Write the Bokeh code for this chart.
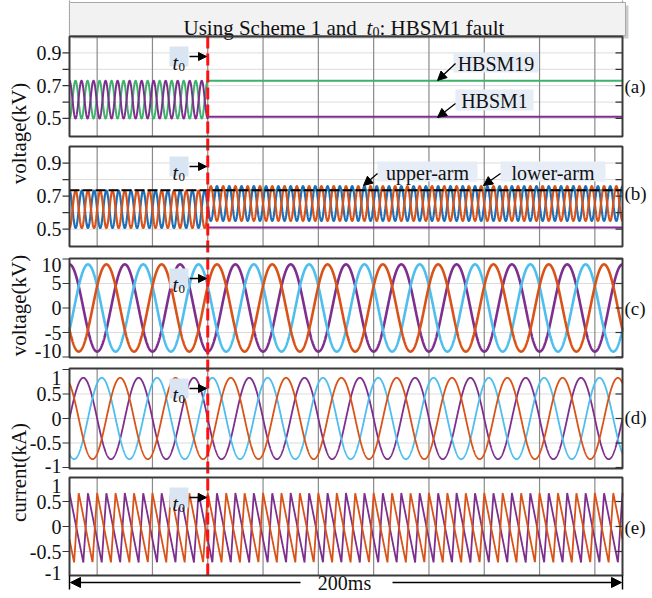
import numpy as np
from bokeh.plotting import figure
from bokeh.models import Range1d, Arrow, NormalHead
from bokeh.core.properties import value
from bokeh.embed import file_html
from bokeh.resources import INLINE

# ---------------- values ----------------
time_window_ms = [0.0, 200.0]
fault_time_ms = 50.0
vgrid_ms = [10, 30, 50, 70, 90, 110, 130, 150, 170, 190]

# (a) sub-module capacitor voltages (kV)
sm_ripple_hz = 230.0
sm_pre_mean = 0.615
sm_pre_amp = 0.115
hbsm19_after = 0.73
hbsm1_after = 0.51

# (b) arm capacitor voltages (kV)
arm_ripple_hz = 225.0
arm_mean_pre_post = [0.62, 0.655]
arm_amp_pre_post = [0.113, 0.105]
arm_reference_kv = 0.735
hbsm1_level_kv = 0.51

# (c) AC voltages (kV), three phases: purple, cyan, orange
ac_freq_hz = 50.0
vac_amp_kv = 8.9
vac_peak_ms = [0.0, 6.67, 13.33]

# (d) AC currents (kA)
iac_amp_ka = 0.83
iac_peak_ms = [5.0, 11.67, 18.33]

# (e) arm currents (kA): purple, orange
e_freq_hz = 150.0
e_high_ka = 0.67
e_low_ka = -0.72
e_rise_fraction = 0.25
e_peak_ms = [0.0, 3.33]

# tick values / labels
ticks_ab = [0.5, 0.6, 0.7, 0.8, 0.9]
labels_ab = ["0.5", "", "0.7", "", "0.9"]
ticks_c = [-10, -5, 0, 5, 10]
labels_c = ["-10", "-5", "0", "5", "10"]
ticks_de = [-1, -0.5, 0, 0.5, 1]
labels_de = ["-1", "-0.5", "0", "0.5", "1"]
panel_tags = ["(a)", "(b)", "(c)", "(d)", "(e)"]

# ---------------- colours ----------------
PURPLE = "#7E2F8E"
GREEN = "#3DB26A"
ORANGE = "#D95319"
BLUE = "#1F6FB8"
CYAN = "#4DBEEE"
FONT = value("Liberation Serif")

# ---------------- layout (page pixels) ----------------
W, H = 650, 596
OX, OY = 0, 0
PX_L, PX_R = 69, 622
K = (PX_R - PX_L) / (time_window_ms[1] - time_window_ms[0])

panels = {
    "a": dict(top=36, bot=136, lo=0.39, hi=1.0),
    "b": dict(top=146, bot=246, lo=0.395, hi=1.0),
    "c": dict(top=258, bot=357, lo=-10.1, hi=10.1),
    "d": dict(top=368, bot=468, lo=-1.02, hi=1.02),
    "e": dict(top=477, bot=575, lo=-0.98, hi=0.98),
}

p = figure(width=W, height=H, x_range=Range1d(OX, OX + W), y_range=Range1d(OY + H, OY),
           x_axis_type=None, y_axis_type=None, toolbar_location=None,
           output_backend="svg", min_border=0, outline_line_color=None)

p.extra_x_ranges = {"ms": Range1d(time_window_ms[0] - (PX_L - OX) / K,
                                  time_window_ms[1] + (OX + W - PX_R) / K)}
yr = {}
for name, d in panels.items():
    s = (d["bot"] - d["top"]) / (d["hi"] - d["lo"])
    yr[name] = Range1d(d["lo"] - (OY + H - d["bot"]) / s, d["hi"] + (d["top"] - OY) / s)
p.extra_y_ranges = yr

t = np.linspace(time_window_ms[0], time_window_ms[1], 4001)
pre = t <= fault_time_ms
t_post = t[t >= fault_time_ms]

# ---------------- title box ----------------
p.segment(x0=[PX_L, PX_R], x1=[PX_L, PX_R], y0=[0, 0], y1=[36, 36],
          line_color="#333333", line_width=1.2, line_dash="1 2")
p.quad(left=[PX_L + 3], right=[625 + 3], top=[2 + 3], bottom=[35 + 3],
       fill_color="#9a9a9a", fill_alpha=0.5, line_color=None)
p.quad(left=[PX_L], right=[625], top=[2], bottom=[35],
       fill_color="#f2f2f2", line_color="#a8a8a8", line_width=1)
p.text(x=[183], y=[27], text=["Using Scheme 1 and"], text_font=FONT,
       text_font_size="21px", text_baseline="alphabetic", text_color="#111111")
p.text(x=[366], y=[27], text=["t"], text_font=FONT, text_font_style="italic",
       text_font_size="21px", text_baseline="alphabetic", text_color="#111111")
p.text(x=[372], y=[31], text=["0"], text_font=FONT,
       text_font_size="14px", text_baseline="alphabetic", text_color="#111111")
p.text(x=[379], y=[27], text=[": HBSM1 fault"], text_font=FONT,
       text_font_size="21px", text_baseline="alphabetic", text_color="#111111")

# ---------------- panel grids ----------------
hgrid = {"a": ticks_ab, "b": ticks_ab, "c": [-5, 0, 5], "d": [-0.5, 0, 0.5], "e": [-0.5, 0, 0.5]}
for name, d in panels.items():
    hv = hgrid[name]
    p.segment(x0=[time_window_ms[0]] * len(hv), x1=[time_window_ms[1]] * len(hv), y0=hv, y1=hv,
              x_range_name="ms", y_range_name=name, line_color="#dcdcdc", line_width=1)
    p.segment(x0=vgrid_ms, x1=vgrid_ms, y0=[d["lo"]] * len(vgrid_ms), y1=[d["hi"]] * len(vgrid_ms),
              x_range_name="ms", y_range_name=name, line_color="#8a8a8a", line_width=1.2)

# ---------------- waveforms ----------------
w_sm = np.cos(2 * np.pi * sm_ripple_hz * t / 1000.0)
green_a = np.where(pre, sm_pre_mean - sm_pre_amp * w_sm, hbsm19_after)
purple_a = np.where(pre, sm_pre_mean + sm_pre_amp * w_sm, hbsm1_after)
p.line(t, green_a, x_range_name="ms", y_range_name="a", line_color=GREEN, line_width=2)
p.line(t, purple_a, x_range_name="ms", y_range_name="a", line_color=PURPLE, line_width=2)

w_arm = np.cos(2 * np.pi * arm_ripple_hz * t / 1000.0)
m_arm = np.where(pre, arm_mean_pre_post[0], arm_mean_pre_post[1])
a_arm = np.where(pre, arm_amp_pre_post[0], arm_amp_pre_post[1])
upper_b = m_arm + a_arm * w_arm
lower_b = m_arm - a_arm * w_arm
p.line(t_post, [arm_reference_kv] * len(t_post), x_range_name="ms", y_range_name="b",
       line_color=GREEN, line_width=2)
p.line(t_post, [hbsm1_level_kv] * len(t_post), x_range_name="ms", y_range_name="b",
       line_color=PURPLE, line_width=1.8)
p.line(t, upper_b, x_range_name="ms", y_range_name="b", line_color=BLUE, line_width=2.2)
p.line(t, lower_b, x_range_name="ms", y_range_name="b", line_color=ORANGE, line_width=2.2)
p.line(time_window_ms, [arm_reference_kv] * 2, x_range_name="ms", y_range_name="b",
       line_color="black", line_width=2, line_dash="10 3")

for pk, col in zip(vac_peak_ms, [PURPLE, CYAN, ORANGE]):
    v = vac_amp_kv * np.cos(2 * np.pi * ac_freq_hz * (t - pk) / 1000.0)
    p.line(t, v, x_range_name="ms", y_range_name="c", line_color=col, line_width=2.6)

for pk, col in zip(iac_peak_ms, [PURPLE, CYAN, ORANGE]):
    v = iac_amp_ka * np.cos(2 * np.pi * ac_freq_hz * (t - pk) / 1000.0)
    p.line(t, v, x_range_name="ms", y_range_name="d", line_color=col, line_width=1.8)

r = e_rise_fraction
for pk, col in zip(e_peak_ms, [PURPLE, ORANGE]):
    u = ((t - pk) * e_freq_hz / 1000.0) % 1.0
    span = e_high_ka - e_low_ka
    v = np.where(u < 1 - r, e_high_ka - span * u / (1 - r), e_low_ka + span * (u - (1 - r)) / r)
    p.line(t, v, x_range_name="ms", y_range_name="e", line_color=col, line_width=1.8)

# ---------------- fault line ----------------
p.segment(x0=[fault_time_ms], x1=[fault_time_ms], y0=[36], y1=[575], x_range_name="ms",
          line_color="#FF1010", line_width=3, line_dash="12 5")

# ---------------- frames, ticks, labels ----------------
tick_sets = {"a": (ticks_ab, labels_ab, [0, 0, 0, 0, 0]),
             "b": (ticks_ab, labels_ab, [0, 0, 0, 0, 0]),
             "c": (ticks_c, labels_c, [-6, 0, 0, 0, 6]),
             "d": (ticks_de, labels_de, [-2, 0, 0, 0, 9]),
             "e": (ticks_de, labels_de, [-4, 0, 0, 0, 9])}
tag_y = [86, 193, 308, 417, 527]
for (name, d), tag, ty in zip(panels.items(), panel_tags, tag_y):
    tv, tl, toff = tick_sets[name]
    inside = [v for v in tv if d["lo"] <= v <= d["hi"]]
    p.segment(x0=[PX_L - 7] * len(inside), x1=[PX_L] * len(inside), y0=inside, y1=inside,
              y_range_name=name, line_color="#333333", line_width=1.2)
    p.segment(x0=[PX_R - 7] * len(inside), x1=[PX_R] * len(inside), y0=inside, y1=inside,
              y_range_name=name, line_color="#333333", line_width=1.2)
    p.text(x=[61] * len(tv), y=tv, text=tl, y_offset=toff, y_range_name=name,
           text_font=FONT, text_font_size="20px", text_align="right",
           text_baseline="middle", text_color="#111111")
    p.quad(left=[time_window_ms[0]], right=[time_window_ms[1]], bottom=[d["lo"]], top=[d["hi"]],
           x_range_name="ms", y_range_name=name, fill_color=None,
           line_color="#3a3a3a", line_width=2)
    p.text(x=[624], y=[ty], text=[tag], text_font=FONT, text_font_size="19px",
           text_baseline="middle", text_color="#111111")

    # t0 marker
    T = d["top"]
    p.quad(left=[169], right=[188], top=[T + 10], bottom=[T + 30],
           fill_color="#d9e5f2", line_color=None)
    p.text(x=[172], y=[T + 26], text=["t"], text_font=FONT, text_font_style="italic",
           text_font_size="20px", text_baseline="alphabetic", text_color="#111111")
    p.text(x=[178], y=[T + 30], text=["0"], text_font=FONT,
           text_font_size="13px", text_baseline="alphabetic", text_color="#111111")
    p.add_layout(Arrow(end=NormalHead(size=8, fill_color="black", line_color="black"),
                       x_start=189, y_start=T + 20, x_end=206, y_end=T + 20,
                       line_color="black", line_width=1.3))

# y axis titles
p.text(x=[18, 18, 18], y=[133, 305, 472], text=["voltage(kV)", "voltage(kV)", "current(kA)"],
       angle=np.pi / 2, text_font=FONT, text_font_size="21px", text_align="center",
       text_baseline="middle", text_color="#111111")

# curve annotations
notes = [("HBSM19", 453, 538, 52, 72, 455, 63, 437, 80),
         ("HBSM1", 455, 533, 89, 110, 455, 103, 437, 117),
         ("upper-arm", 377, 477, 161, 181, 377, 173, 363, 185),
         ("lower-arm", 500, 605, 161, 181, 500, 173, 483, 185)]
for txt, l, rr, tp, bt, xs, ys, xe, ye in notes:
    p.quad(left=[l], right=[rr], top=[tp], bottom=[bt], fill_color="#e6edf6", line_color=None)
    p.text(x=[(l + rr) / 2], y=[(tp + bt) / 2 + 1], text=[txt], text_font=FONT,
           text_font_size="20px", text_align="center", text_baseline="middle",
           text_color="#111111")
    p.add_layout(Arrow(end=NormalHead(size=9, fill_color="black", line_color="black"),
                       x_start=xs, y_start=ys, x_end=xe, y_end=ye,
                       line_color="black", line_width=1.3))

# bottom span arrow
p.segment(x0=[PX_L, PX_R], x1=[PX_L, PX_R], y0=[575, 575], y1=[589, 589],
          line_color="black", line_width=1.5)
for xs, xe in [(300, PX_L + 1), (392, PX_R - 1)]:
    p.add_layout(Arrow(end=NormalHead(size=10, fill_color="black", line_color="black"),
                       x_start=xs, y_start=582, x_end=xe, y_end=582,
                       line_color="black", line_width=1.5))
p.text(x=[344], y=[582], text=["200ms"], text_font=FONT, text_font_size="20px",
       text_align="center", text_baseline="middle", text_color="#111111")

open("out.html", "w").write(file_html(p, INLINE))
